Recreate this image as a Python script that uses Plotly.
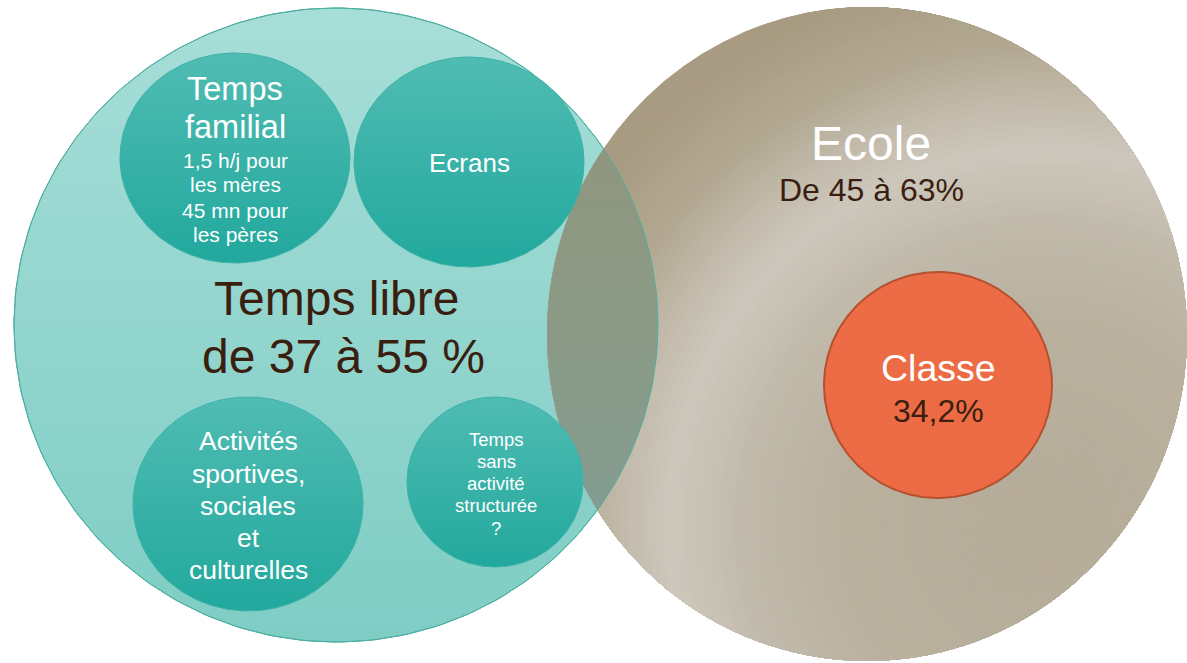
import numpy as np
import plotly.graph_objects as go

# ---- text content (data) ----
free_title = ["Temps libre", "de 37 à 55 %"]
family_lines = ["Temps", "familial", "1,5 h/j pour", "les mères", "45 mn pour", "les pères"]
screens_lines = ["Ecrans"]
activities_lines = ["Activités", "sportives,", "sociales", "et", "culturelles"]
unstructured_lines = ["Temps", "sans", "activité", "structurée", "?"]
school_lines = ["Ecole", "De 45 à 63%"]
class_lines = ["Classe", "34,2%"]

# ---- layout geometry (pixel space of the slide) ----
W, H = 1187, 663
G = {
    "free":   (336, 325, 322, 317),
    "school": (867, 334, 320, 327),
    "family": (235, 158, 115, 105),
    "screens": (469, 162, 115, 105),
    "activ":  (248, 504, 115, 107),
    "unstr":  (495, 482, 88, 85),
    "classe": (938, 385, 114, 113),
}
FONT = "Liberation Sans, Arial, sans-serif"
DARK = "#3a1f10"


def ellipse(key, n=240):
    cx, cy, rx, ry = G[key]
    t = np.linspace(0, 2 * np.pi, n)
    return cx + rx * np.cos(t), cy + ry * np.sin(t)


def inside(key, x, y):
    cx, cy, rx, ry = G[key]
    return ((x - cx) / rx) ** 2 + ((y - cy) / ry) ** 2 <= 1.0


fig = go.Figure()


def add_shape_trace(x, y, colors, line_color, line_width, start, stop, gtype="vertical"):
    fig.add_trace(go.Scatter(
        x=x, y=y, mode="lines", fill="toself",
        line=dict(color=line_color, width=line_width),
        fillgradient=dict(type=gtype, start=start, stop=stop, colorscale=colors),
        hoverinfo="skip", showlegend=False))


def add_solid(x, y, color):
    fig.add_trace(go.Scatter(
        x=x, y=y, mode="lines", fill="toself", fillcolor=color,
        line=dict(color="rgba(0,0,0,0)", width=0),
        hoverinfo="skip", showlegend=False))


# big teal "Temps libre" circle
x, y = ellipse("free")
cx, cy, rx, ry = G["free"]
add_shape_trace(x, y, [[0, "#a7ded8"], [1, "#7ecdc4"]], "#3cb0a5", 1, cy - ry, cy + ry)

# school circle: curved sheen built from stacked (ellipse ∩ disk) layers
cx, cy, rx, ry = G["school"]
t = np.linspace(0, 2 * np.pi, 1400, endpoint=False)
ex, ey = cx + rx * np.cos(t), cy + ry * np.sin(t)
PX, PY = 1045.0, 525.0
dist_e = np.hypot(ex - PX, ey - PY)
profile = [(0, (181, 171, 152)), (200, (185, 176, 158)), (300, (193, 186, 171)),
           (375, (205, 199, 188)), (425, (194, 186, 170)), (480, (178, 168, 145)),
           (560, (168, 155, 130)), (900, (165, 152, 126))]


def col_at(r):
    for (r0, c0), (r1, c1) in zip(profile[:-1], profile[1:]):
        if r0 <= r <= r1:
            f = (r - r0) / (r1 - r0)
            c = [round(a + (b - a) * f) for a, b in zip(c0, c1)]
            return "rgb(%d,%d,%d)" % tuple(c)
    return "rgb(%d,%d,%d)" % profile[-1][1]


rmax = dist_e.max()
radii = np.arange(rmax, 20, -7.0)
for i, r in enumerate(radii):
    if i == 0:
        px, py = np.append(ex, ex[0]), np.append(ey, ey[0])
    else:
        tc = np.linspace(0, 2 * np.pi, 900, endpoint=False)
        qx, qy = PX + r * np.cos(tc), PY + r * np.sin(tc)
        mq = inside("school", qx, qy)
        me = dist_e <= r
        px = np.concatenate([ex[me], qx[mq]])
        py = np.concatenate([ey[me], qy[mq]])
        if len(px) < 3:
            continue
        ox, oy = px.mean(), py.mean()
        o = np.argsort(np.arctan2(py - oy, px - ox))
        px, py = px[o], py[o]
        px = np.append(px, px[0]); py = np.append(py, py[0])
    add_solid(px, py, col_at(r - 3.5 if i else r))

# overlap lens
xs, ys = ellipse("school", 800)
xf, yf = ellipse("free", 800)
m1 = inside("free", xs, ys)
m2 = inside("school", xf, yf)
px = np.concatenate([xs[m1], xf[m2]])
py = np.concatenate([ys[m1], yf[m2]])
ccx, ccy = px.mean(), py.mean()
order = np.argsort(np.arctan2(py - ccy, px - ccx))
px, py = px[order], py[order]
px = np.append(px, px[0]); py = np.append(py, py[0])
add_shape_trace(px, py, [[0, "#8f967e"], [0.5, "#8b9a86"], [1, "#839c91"]],
                "rgba(0,0,0,0)", 0, py.min(), py.max())

# teal outline visible through overlap
x, y = ellipse("free")
fig.add_trace(go.Scatter(x=x, y=y, mode="lines", line=dict(color="#4fae9f", width=1),
                         hoverinfo="skip", showlegend=False))

# small teal circles
for key in ["family", "screens", "activ", "unstr"]:
    x, y = ellipse(key)
    cx, cy, rx, ry = G[key]
    add_shape_trace(x, y, [[0, "#50bcb3"], [1, "#22a89d"]], "#3db2a8", 1, cy - ry, cy + ry)

# classe circle
x, y = ellipse("classe")
cx, cy, rx, ry = G["classe"]
add_shape_trace(x, y, [[0, "#ec6c45"], [1, "#ec6b44"]], "#b5512f", 2, cy - ry, cy + ry)


def txt(s, x, y, size, color):
    fig.add_annotation(x=x, y=y, xref="x", yref="y", text=s, showarrow=False,
                       xanchor="center", yanchor="middle",
                       font=dict(family=FONT, size=size, color=color))


# texts
fam_y = [89, 127, 160, 184, 210, 234]
fam_s = [32.5, 32.5, 21, 21, 21, 21]
for s, yy, sz in zip(family_lines, fam_y, fam_s):
    txt(s, 235, yy, sz, "white")
txt(screens_lines[0], 469, 163, 26, "white")
txt(free_title[0], 336, 298, 48, DARK)
txt(free_title[1], 343, 356, 48, DARK)
for s, yy in zip(activities_lines, [441, 474, 506, 538, 570]):
    txt(s, 248, yy, 26.5, "white")
for s, yy in zip(unstructured_lines, [439, 461, 483, 505, 528]):
    txt(s, 496, yy, 18.5, "white")
txt(school_lines[0], 871, 143, 48, "white")
txt(school_lines[1], 871, 190, 32, DARK)
txt(class_lines[0], 938, 368, 37.5, "white")
txt(class_lines[1], 938, 411, 32, DARK)

fig.update_layout(
    width=W, height=H, margin=dict(l=0, r=0, t=0, b=0),
    paper_bgcolor="white", plot_bgcolor="white",
    xaxis=dict(range=[0, W], visible=False, fixedrange=True),
    yaxis=dict(range=[H, 0], visible=False, fixedrange=True),
    showlegend=False,
)
fig.write_html(
    "out.html",
    config={"displayModeBar": False},
    post_script="document.body.style.margin='0px';document.body.style.overflow='hidden';",
)
